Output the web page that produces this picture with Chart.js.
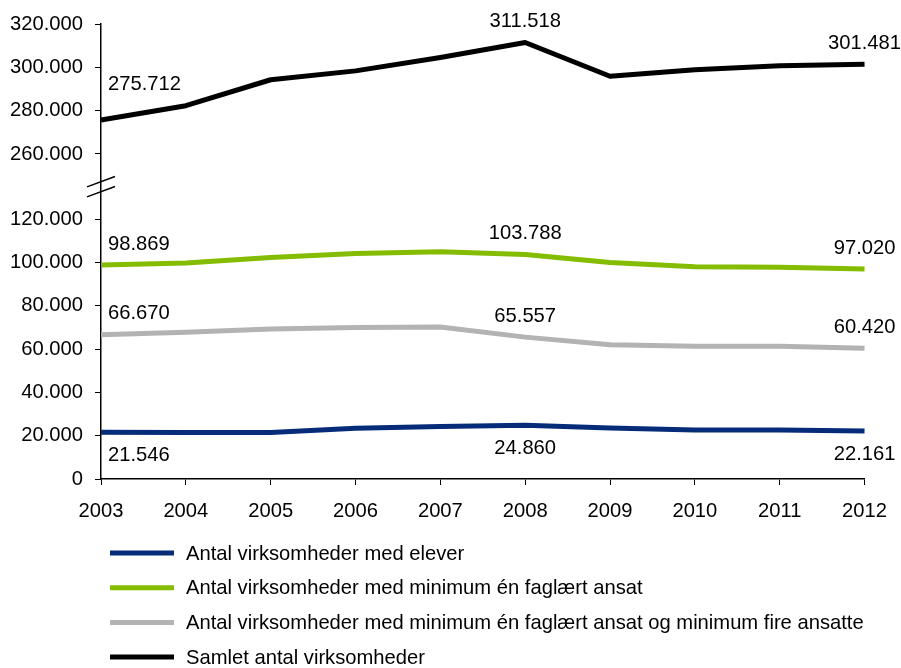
<!DOCTYPE html>
<html>
<head>
<meta charset="utf-8">
<script src="https://cdn.jsdelivr.net/npm/chart.js@4.4.0/dist/chart.umd.min.js"></script>
<style>
  html, body { margin: 0; padding: 0; background: #fff; }
  #wrap { width: 901px; height: 668px; position: relative; }
</style>
</head>
<body>
<div id="wrap"><canvas id="chart"></canvas></div>
<script>
// Data
const years = ['2003', '2004', '2005', '2006', '2007', '2008', '2009', '2010', '2011', '2012'];
const elever = [21546, 21500, 21500, 23500, 24300, 24860, 23600, 22700, 22600, 22161];
const faglaert = [98869, 99800, 102300, 104200, 105000, 103788, 100000, 98100, 97900, 97020];
const faglaertFire = [66670, 67800, 69300, 70000, 70200, 65557, 62000, 61400, 61300, 60420];
const samlet = [275712, 282300, 294300, 298400, 304600, 311518, 295900, 298900, 300800, 301481];

const seriesNames = [
  'Antal virksomheder med elever',
  'Antal virksomheder med minimum én faglært ansat',
  'Antal virksomheder med minimum én faglært ansat og minimum fire ansatte',
  'Samlet antal virksomheder'
];
const lowTicks = [0, 20000, 40000, 60000, 80000, 100000, 120000];
const highTicks = [260000, 280000, 300000, 320000];
const labelIndexes = [0, 5, 9];

// Y axis is broken: values above BREAK_FROM are moved down by BREAK_SHIFT
const BREAK_FROM = 200000;
const BREAK_SHIFT = 109800;
const toAxis = v => (v > BREAK_FROM ? v - BREAK_SHIFT : v);
const fromAxis = v => (v > 140000 ? v + BREAK_SHIFT : v);

const FONT = "'Liberation Sans', Arial, sans-serif";
const FONT_SIZE = 20.2;

const fmt = v => String(Math.round(v)).replace(/\B(?=(\d{3})+(?!\d))/g, '.');

const colors = ['#062b79', '#84bc00', '#b3b3b3', '#000000'];
const values = [elever, faglaert, faglaertFire, samlet];

const datasets = values.map((vals, i) => ({
  label: seriesNames[i],
  data: vals.map(toAxis),
  rawValues: vals,
  borderColor: colors[i],
  backgroundColor: colors[i],
  borderWidth: 5,
  pointRadius: 0,
  tension: 0,
  borderJoinStyle: 'round',
  fill: false
}));

// 数值标签
const valueLabels = {
  id: 'valueLabels',
  afterDatasetsDraw(chart) {
    const ctx = chart.ctx;
    ctx.save();
    ctx.font = `${FONT_SIZE}px ${FONT}`;
    ctx.fillStyle = '#000';
    ctx.textBaseline = 'middle';
    chart.data.datasets.forEach((ds, di) => {
      const meta = chart.getDatasetMeta(di);
      for (const idx of labelIndexes) {
        const pt = meta.data[idx];
        let dy = di === 0 ? 23 : -21;
        if (di === 3 && idx === 0) dy = -36;
        let x = pt.x;
        if (idx === 0) {
          ctx.textAlign = 'left';
          x += 7;
        } else {
          ctx.textAlign = 'center';
        }
        ctx.fillText(fmt(ds.rawValues[idx]), x, pt.y + dy);
      }
    });
    ctx.restore();
  }
};

// 轴断裂标记 + 图例
const extras = {
  id: 'extras',
  afterDraw(chart) {
    const ctx = chart.ctx;
    const y = chart.scales.y;
    const area = chart.chartArea;

    // break marks
    const mid = (y.getPixelForValue(120000) + y.getPixelForValue(toAxis(260000))) / 2;
    ctx.save();
    ctx.strokeStyle = '#000';
    ctx.lineWidth = 1.5;
    for (const off of [-5, 5]) {
      ctx.beginPath();
      ctx.moveTo(area.left - 14, mid + off + 5.2);
      ctx.lineTo(area.left + 14, mid + off - 5.2);
      ctx.stroke();
    }

    // legend
    ctx.font = `${FONT_SIZE}px ${FONT}`;
    ctx.textAlign = 'left';
    ctx.textBaseline = 'middle';
    chart.data.datasets.forEach((ds, i) => {
      const rowY = 553 + i * 34.7;
      ctx.strokeStyle = ds.borderColor;
      ctx.lineWidth = 5;
      ctx.beginPath();
      ctx.moveTo(110, rowY);
      ctx.lineTo(174, rowY);
      ctx.stroke();
      ctx.fillStyle = '#000';
      ctx.fillText(ds.label, 186, rowY + 1);
    });
    ctx.restore();
  }
};

new Chart(document.getElementById('chart'), {
  type: 'line',
  data: { labels: years, datasets },
  options: {
    responsive: true,
    maintainAspectRatio: false,
    animation: false,
    layout: { padding: { top: 23, right: 36, left: 0, bottom: 0 } },
    plugins: {
      legend: { display: false },
      tooltip: { enabled: false }
    },
    scales: {
      x: {
        offset: false,
        grid: { drawOnChartArea: false, drawTicks: true, tickLength: 6, color: '#000' },
        border: { display: true, color: '#000', width: 1.5 },
        ticks: { color: '#000', font: { family: FONT, size: FONT_SIZE }, padding: 14, maxRotation: 0 },
        afterFit: (s) => { s.height = 668 - 479; }
      },
      y: {
        min: 0,
        max: toAxis(320000),
        grid: { drawOnChartArea: false, drawTicks: true, tickLength: 6, color: '#000' },
        border: { display: true, color: '#000', width: 1.5 },
        ticks: {
          color: '#000',
          font: { family: FONT, size: FONT_SIZE },
          padding: 12,
          callback: (v) => fmt(fromAxis(v))
        },
        afterBuildTicks: (s) => {
          s.ticks = lowTicks.concat(highTicks.map(toAxis)).map(v => ({ value: v }));
        },
        afterFit: (s) => { s.width = 101; }
      }
    }
  },
  plugins: [valueLabels, extras]
});
</script>
</body>
</html>
